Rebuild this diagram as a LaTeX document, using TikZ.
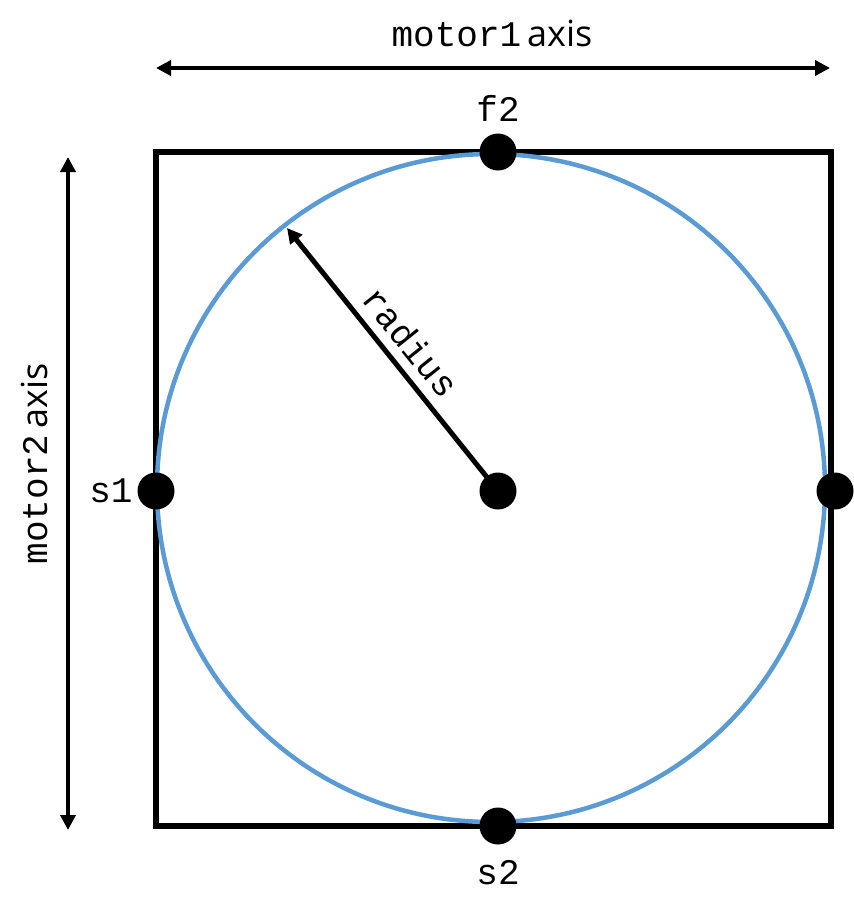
\documentclass[tikz,border=0pt]{standalone}
\usepackage{fontspec}
\setmonofont{Liberation Mono}
\newfontfamily\axisfont{Open Sans}
\usetikzlibrary{arrows.meta}
\definecolor{circblue}{HTML}{5B9BD5}
\tikzset{
  dot/.style={circle,fill=black,inner sep=0pt,minimum size=37pt},
  axisarrow/.style={line width=4.5pt,{Triangle[length=15pt,width=15pt]}-{Triangle[length=15pt,width=15pt]}},
  lbl/.style={font=\fontsize{36}{40}\selectfont\ttfamily,inner sep=0pt}
}
\newcommand{\ax}{{\fontsize{36}{40}\selectfont\axisfont axis}}
\begin{document}
\begin{tikzpicture}[x=1pt,y=-1pt]
\useasboundingbox (0,0) rectangle (854,919);
% work area and reachable circle
\draw[line width=6pt] (156,152) rectangle (831,826);
\draw[circblue,line width=4.5pt] (491,488) circle (334);
% axes
\coordinate (m1l) at (156,68); \coordinate (m1r) at (830,68);
\coordinate (m2t) at (68,157); \coordinate (m2b) at (68,830);
\draw[axisarrow] (m1l) -- (m1r);
\draw[axisarrow] (m2t) -- (m2b);
\node[lbl,anchor=base] (m1lbl) at (492,46) {motor1\,\ax};
\node[lbl,anchor=base,rotate=90] (m2lbl) at (47,464) {motor2\,\ax};
% points
\node[dot] (ctr) at (498,491) {};
\node[dot] (f2) at (498,152) {};
\node[dot] (s1) at (156,491) {};
\node[dot] (s2) at (498,826) {};
\node[dot] (rt) at (835,491) {};
\node[lbl] at (498,108) {f2};
\node[lbl] at (111,491) {s1};
\node[lbl] at (498,873) {s2};
% radius
\coordinate (rtip) at (287,228);
\draw[line width=5pt,-{Triangle[length=15pt,width=15pt]}] (ctr.center) -- (rtip);
\node[lbl,rotate=-51.3] (rlbl) at (411,342) {radius};
\end{tikzpicture}
\end{document}
